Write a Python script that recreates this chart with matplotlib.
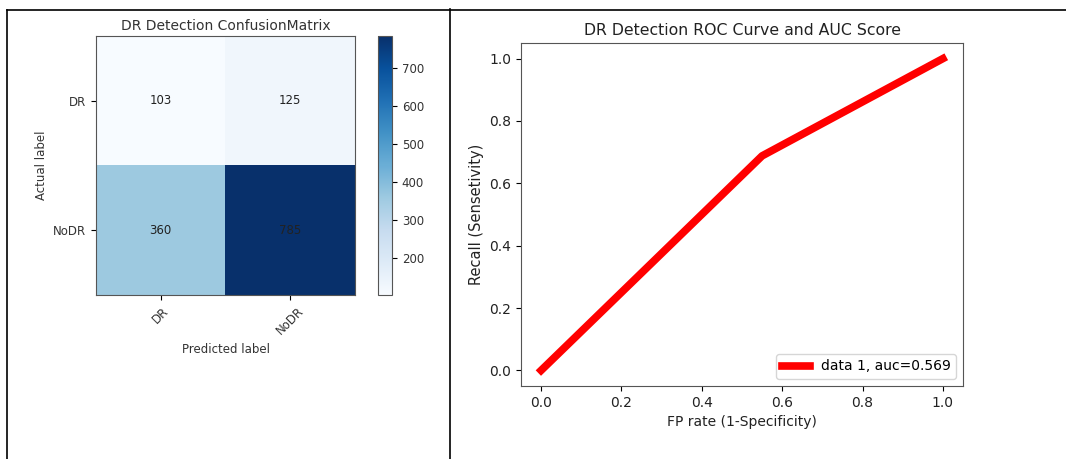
import matplotlib.pyplot as plt
import numpy as np
from matplotlib.lines import Line2D

classes = ['DR', 'NoDR']
cm = np.array([[103, 125],
               [360, 785]])

fpr = [0.0, 0.55, 1.0]
tpr = [0.0, 0.688, 1.0]
auc = 0.569

fig = plt.figure(figsize=(10.66, 4.59), dpi=100)

# confusion matrix panel
ax1 = fig.add_axes([96 / 1066, 1 - 295 / 459, 259 / 1066, 259 / 459])
im = ax1.imshow(cm, interpolation='nearest', cmap=plt.cm.Blues, aspect='auto')
ax1.set_title('DR Detection ConfusionMatrix', fontsize=10, pad=4, color='#333333')
cax = fig.add_axes([378 / 1066, 1 - 295 / 459, 14 / 1066, 259 / 459])
cb = fig.colorbar(im, cax=cax)
cb.ax.tick_params(labelsize=8.5, labelcolor='#333333')
ticks = np.arange(len(classes))
ax1.set_xticks(ticks)
ax1.set_xticklabels(classes, rotation=45, fontsize=8.5, color='#333333')
ax1.set_yticks(ticks)
ax1.set_yticklabels(classes, fontsize=8.5, color='#333333')
for i in range(cm.shape[0]):
    for j in range(cm.shape[1]):
        ax1.text(j, i, format(cm[i, j], 'd'), ha='center', va='center',
                 color='#222222', fontsize=8.5)
ax1.set_ylabel('Actual label', fontsize=8.5, color='#333333')
ax1.set_xlabel('Predicted label', fontsize=8.5, color='#333333')

# ROC panel
ax2 = fig.add_axes([521 / 1066, 1 - 386 / 459, 442 / 1066, 343 / 459])
ax2.plot(fpr, tpr, color='red', linewidth=5.5, label='data 1, auc=' + str(auc))
ax2.set_title('DR Detection ROC Curve and AUC Score', fontsize=11.3, color='#222222')
ax2.set_xlabel('FP rate (1-Specificity)', fontsize=10, color='#222222')
ax2.set_ylabel('Recall (Sensetivity)', fontsize=10.5, color='#222222')
ax2.tick_params(labelsize=10, labelcolor='#222222')
ax2.legend(loc=4, fontsize=10)

for ax in (ax1, cax, ax2):
    for s in ax.spines.values():
        s.set_edgecolor('#555555')

# table frame around the two panels
W, H = 1066, 459
frame = [((7, 7), (10, H)), ((7, W), (10, 10)), ((450, 450), (9, H))]
for xs, ys in frame:
    fig.add_artist(Line2D([x / W for x in xs], [1 - y / H for y in ys],
                          color='black', linewidth=1.2))

fig.savefig('out.png', dpi=100)
